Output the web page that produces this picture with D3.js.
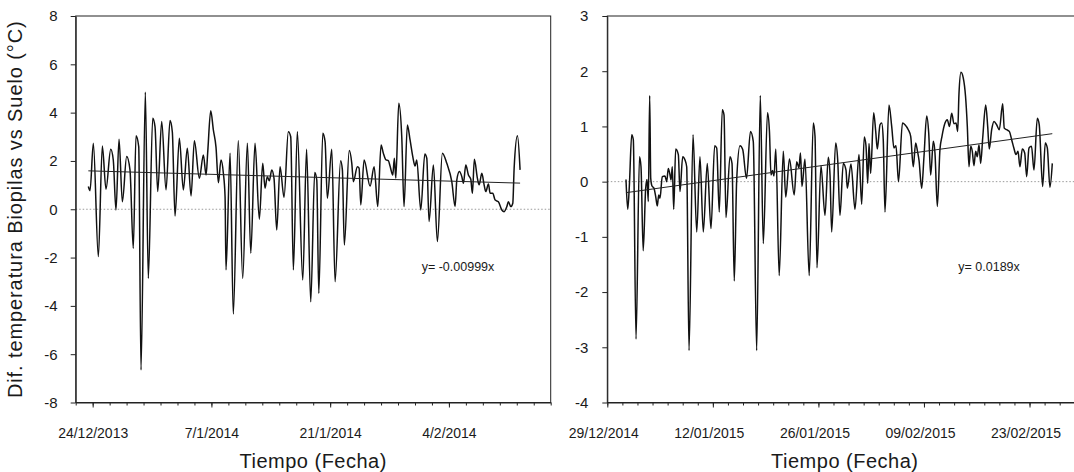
<!DOCTYPE html>
<html>
<head>
<meta charset="utf-8">
<script src="https://cdn.jsdelivr.net/npm/d3@7"></script>
<style>
  body { margin: 0; background: #fff; }
  svg { display: block; }
  text { font-family: "Liberation Sans", Arial, sans-serif; fill: #1a1a1a; }
</style>
</head>
<body>
<svg id="chart" width="1074" height="472"></svg>
<script>
// ---- 2013-2014 campaign (days counted from 22/12/2013) ----
const leftStart = "22/12/2013";
const leftEnd = "16/02/2014";
const leftDay = [1.49,1.69,2.08,2.67,3.14,3.57,4.13,4.43,4.75,5.11,
  5.50,6.01,6.40,6.79,7.11,7.43,7.70,8.21,8.56,9.08,
  9.35,9.67,10.14,10.65,11.12,11.39,11.71,12.22,12.69,13.16,
  13.60,13.99,14.58,15.05,15.37,15.57,15.92,16.23,16.54,16.82,
  17.13,17.41,17.61,17.72,18.20,18.58,19.17,19.69,20.24,20.64,
  21.14,21.65,22.05,22.32,22.59,22.83,23.11,23.38,23.70,24.09,
  24.56,25.07,25.35,25.66,26.13,26.77,27.22,27.71,28.18,28.42,
  28.66,29.13,29.40,29.67,30.19,30.58,31.23,31.44,31.67,32.25,
  32.55,32.74,33.21,33.41,33.61,34.00,34.71,35.18,35.61,36.00,
  36.27,36.59,36.86,37.06,37.38,37.57,37.74,38.09,38.44,38.71,
  39.10,39.42,39.74,40.01,40.21,40.68,41.16,41.39,41.66,42.17,
  42.64,43.23,43.75,44.34,44.73,44.93,45.24,45.52,45.71,45.99,
  46.30,46.58,46.77,47.00,47.36,47.56,47.88,48.15,48.35,48.66,
  48.86,49.17,49.45,49.83,50.24,50.51,50.83,51.01,51.30,51.53,
  51.69,52.08,52.39];
const leftDiff = [0.94,0.77,2.73,-1.96,2.62,0.83,2.48,2.04,-0.03,2.90,
  0.31,2.18,1.63,-1.62,3.04,2.59,-6.65,4.84,-2.86,3.77,
  3.42,0.73,3.63,0.80,3.67,3.21,-0.28,2.94,0.80,2.53,
  0.55,2.84,1.28,2.25,1.42,2.39,4.08,3.28,2.57,1.10,
  2.04,1.49,0.52,-2.51,2.32,-4.34,2.84,-2.86,2.73,-1.82,
  2.73,-0.41,1.90,0.87,1.35,1.18,1.63,1.28,-0.86,1.76,
  0.50,3.21,3.00,-2.51,3.21,-2.93,2.48,-3.83,1.52,1.21,
  -3.48,3.15,2.80,0.46,2.48,-3.00,2.01,1.63,-1.48,2.43,
  1.90,1.14,1.76,1.70,0.18,2.04,0.96,1.76,0.11,2.66,
  2.32,2.04,2.01,1.79,1.42,2.11,1.28,4.39,3.00,0.11,
  3.49,2.87,2.18,1.79,2.04,-0.03,2.29,2.11,-0.51,1.83,
  -1.34,2.32,1.90,1.14,0.11,1.21,1.56,1.35,1.08,1.83,
  1.42,1.24,0.66,2.07,1.28,1.01,1.49,1.01,0.73,1.05,
  0.66,0.66,0.38,0.31,-0.03,-0.10,0.11,0.31,0.11,0.25,
  1.70,3.04,1.63];
const leftTickLabels = ["24/12/2013", "7/1/2014", "21/1/2014", "4/2/2014"];
const leftYTicks = [-8, -6, -4, -2, 0, 2, 4, 6, 8];
const leftSlope = -0.00999;      // °C per day
const leftTrendAtStart = 1.59;   // fitted value at the first reading
const leftEquation = "y= -0.00999x";

// ---- 2014-2015 campaign (days counted from 29/12/2014) ----
const rightStart = "29/12/2014";
const rightEnd = "02/03/2015";
const rightDay = [2.48,2.71,2.92,3.24,3.45,3.81,4.27,4.47,4.76,5.09,
  5.27,5.44,5.62,5.76,5.93,6.19,6.42,6.63,6.82,6.99,
  7.29,7.65,7.88,8.09,8.32,8.45,8.62,8.81,9.07,9.42,
  9.64,10.00,10.31,10.53,10.84,11.37,11.86,12.29,12.73,13.26,
  13.75,14.24,14.51,14.85,15.25,15.48,15.74,16.27,16.54,16.84,
  17.16,17.60,17.96,18.46,18.99,19.36,19.81,20.29,20.69,21.25,
  21.51,21.71,21.91,22.11,22.35,22.80,23.34,23.67,24.16,24.79,
  25.12,25.42,25.62,25.82,26.22,26.78,27.32,27.55,27.81,28.34,
  28.87,29.31,29.54,29.76,30.29,30.56,30.86,31.30,31.66,31.83,
  32.32,32.85,33.38,33.74,34.08,34.31,34.54,34.71,34.93,35.33,
  35.60,35.81,36.17,36.39,36.60,36.83,37.36,37.72,38.02,38.29,
  38.62,39.15,39.48,39.92,40.24,40.58,40.90,41.14,41.34,41.70,
  42.00,42.36,42.63,42.89,43.24,43.46,43.77,44.12,44.39,44.79,
  45.09,45.38,45.68,45.98,46.25,46.47,46.64,46.91,47.21,47.51,
  47.75,47.97,48.20,48.41,48.63,48.86,49.07,49.30,49.52,49.79,
  50.19,50.45,50.66,50.98,51.29,51.64,51.99,52.44,52.65,52.97,
  53.32,53.63,53.94,54.20,54.47,54.73,55.04,55.36,55.62,55.93,
  56.26,56.59,57.03,57.29,57.74,58.09,58.36,58.71,59.02];
const rightDiff = [0.04,-0.50,-0.09,0.85,0.76,-2.85,0.45,0.27,-1.25,-0.12,
  0.04,-0.36,1.56,0.06,-0.08,-0.12,-0.27,-0.44,-0.24,-0.30,
  0.09,0.10,0.00,0.24,0.12,0.03,0.27,-0.50,0.59,0.49,
  -0.18,0.45,0.39,0.27,-3.06,0.85,-0.91,0.45,-0.91,0.33,
  -0.85,0.65,0.61,-0.55,1.30,1.21,-0.65,0.45,0.33,-1.80,
  0.03,0.65,0.58,0.06,0.91,0.73,-3.06,1.56,-1.12,1.25,
  0.90,0.12,0.20,0.10,0.59,-1.70,0.55,-0.28,0.41,-0.24,
  0.36,0.25,0.52,-0.09,0.41,-1.70,1.06,0.82,-1.56,0.29,
  -0.61,0.44,0.12,-0.91,0.70,0.39,-0.61,0.33,0.21,-0.12,
  0.32,-0.50,0.49,-0.41,0.81,0.65,-0.03,0.69,0.15,1.25,
  0.91,0.59,1.03,1.06,0.76,-0.55,1.39,1.00,0.61,0.65,
  0.00,1.06,1.03,0.94,0.82,0.27,0.70,0.55,0.39,-0.12,
  0.45,1.19,0.88,0.12,0.73,0.52,-0.45,0.58,0.82,1.06,
  1.12,1.00,1.24,1.05,1.06,0.91,1.58,1.98,1.88,1.55,
  1.00,0.27,0.64,0.55,0.29,0.55,0.45,0.67,0.33,0.79,
  1.39,1.00,0.59,0.94,1.09,1.03,0.94,1.41,0.97,0.94,
  0.91,0.76,0.60,0.49,0.55,0.27,0.59,0.52,0.09,0.61,
  0.64,0.21,1.15,1.03,-0.09,0.70,0.61,-0.10,0.33];
const rightTickLabels = ["29/12/2014", "12/01/2015", "26/01/2015", "09/02/2015", "23/02/2015"];
const rightYTicks = [-4, -3, -2, -1, 0, 1, 2, 3];
const rightSlope = 0.0189;
const rightTrendAtStart = -0.2;
const rightEquation = "y= 0.0189x";

const yTitle = "Dif. temperatura Biopilas vs Suelo (°C)";
const xTitle = "Tiempo (Fecha)";

// ---- layout ----
const svg = d3.select("#chart");
const plotTop = 16, plotBottom = 402.5, plotW = 475;
const parse = d3.utcParse("%d/%m/%Y");
const DAY = 86400000;
const FONT = '"Liberation Sans", Arial, sans-serif';

function drawPanel(cfg) {
  const start = parse(cfg.start), end = parse(cfg.end);
  const x = d3.scaleUtc().domain([start, end]).range([cfg.left, cfg.left + plotW]);
  const y = d3.scaleLinear().domain(d3.extent(cfg.yTicks)).range([plotBottom, plotTop]);
  const g = svg.append("g");
  const toDate = d => new Date(start.getTime() + d * DAY);

  // zero reference
  g.append("line")
    .attr("x1", cfg.left).attr("x2", cfg.left + plotW)
    .attr("y1", y(0)).attr("y2", y(0))
    .attr("stroke", "#9a9a9a").attr("stroke-width", 1)
    .attr("stroke-dasharray", "1.5,2");

  // frame
  g.append("rect")
    .attr("x", cfg.left).attr("y", plotTop)
    .attr("width", plotW).attr("height", plotBottom - plotTop)
    .attr("fill", "none").attr("stroke", "#222").attr("stroke-width", 1);

  // minor ticks every 2 days
  const nDays = Math.round((end - start) / DAY);
  const minor = d3.range(0, nDays + 1, 2).map(toDate);
  g.append("g").attr("transform", `translate(0,${plotBottom})`)
    .call(d3.axisBottom(x).tickValues(minor).tickSize(3).tickSizeOuter(0).tickFormat(""))
    .call(a => a.select(".domain").remove())
    .call(a => a.selectAll("line").attr("stroke", "#222"));

  // major ticks with labels
  const major = cfg.tickLabels.map(parse);
  g.append("g").attr("transform", `translate(0,${plotBottom})`)
    .call(d3.axisBottom(x).tickValues(major).tickSize(5).tickSizeOuter(0)
      .tickPadding(21).tickFormat((d, i) => cfg.tickLabels[i]))
    .call(a => a.select(".domain").attr("stroke", "#222"))
    .call(a => a.selectAll("line").attr("stroke", "#222"))
    .call(a => a.selectAll("text").attr("font-size", 14).attr("fill", "#1a1a1a")
      .attr("dx", cfg.labelDx).style("font-family", FONT));

  // y axis
  g.append("g").attr("transform", `translate(${cfg.left},0)`)
    .call(d3.axisLeft(y).tickValues(cfg.yTicks).tickSize(5).tickSizeOuter(0)
      .tickPadding(cfg.yPad).tickFormat(d => String(d)))
    .call(a => a.select(".domain").attr("stroke", "#222"))
    .call(a => a.selectAll("line").attr("stroke", "#222"))
    .call(a => a.selectAll("text").attr("font-size", 15).attr("fill", "#1a1a1a")
      .style("font-family", FONT));

  // series
  const pts = cfg.days.map((d, i) => [toDate(d), cfg.values[i]]);
  g.append("path").datum(pts)
    .attr("fill", "none").attr("stroke", "#111").attr("stroke-width", 1.5)
    .attr("stroke-linejoin", "round")
    .attr("d", d3.line().x(p => x(p[0])).y(p => y(p[1])).curve(d3.curveMonotoneX));

  // linear trend
  const d0 = cfg.days[0], d1 = cfg.days[cfg.days.length - 1];
  const trend = [[d0, cfg.trendStart], [d1, cfg.trendStart + cfg.slope * (d1 - d0)]];
  g.append("line")
    .attr("x1", x(toDate(trend[0][0]))).attr("y1", y(trend[0][1]))
    .attr("x2", x(toDate(trend[1][0]))).attr("y2", y(trend[1][1]))
    .attr("stroke", "#222").attr("stroke-width", 1);

  // equation
  g.append("text")
    .attr("x", cfg.left + cfg.eqDx).attr("y", 271)
    .attr("font-size", 12.5).attr("fill", "#333")
    .text(cfg.equation);

  // x title
  g.append("text")
    .attr("x", cfg.left + plotW / 2).attr("y", 468)
    .attr("text-anchor", "middle").attr("font-size", 20)
    .attr("letter-spacing", 0.5)
    .text(xTitle);
}

drawPanel({ left: 75.7, start: leftStart, end: leftEnd, days: leftDay, values: leftDiff,
  tickLabels: leftTickLabels, yTicks: leftYTicks, slope: leftSlope,
  trendStart: leftTrendAtStart, equation: leftEquation, eqDx: 346, labelDx: 0, yPad: 13 });
drawPanel({ left: 607.3, start: rightStart, end: rightEnd, days: rightDay, values: rightDiff,
  tickLabels: rightTickLabels, yTicks: rightYTicks, slope: rightSlope,
  trendStart: rightTrendAtStart, equation: rightEquation, eqDx: 351, labelDx: -4, yPad: 14 });

// shared y title
svg.append("text")
  .attr("transform", `translate(22,${(plotTop + plotBottom) / 2}) rotate(-90)`)
  .attr("text-anchor", "middle").attr("font-size", 20)
  .attr("letter-spacing", 0.9)
  .text(yTitle);
</script>
</body>
</html>
